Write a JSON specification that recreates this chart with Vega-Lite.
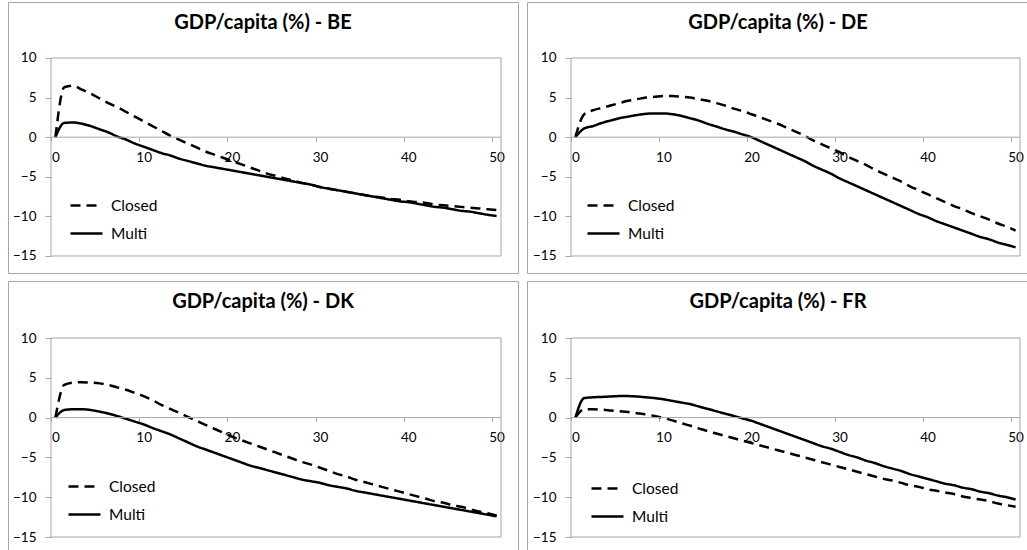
{
  "$schema": "https://vega.github.io/schema/vega-lite/v6.json",
  "padding": {"left": 7, "top": 1, "right": 0, "bottom": 0},
  "background": "white",
  "config": {"font": "Lato", "view": {"stroke": "#a6a6a6", "strokeWidth": 1}},
  "datasets": {
    "BE": [
      {"t":0,"Closed":0,"Multi":0},{"t":1,"Closed":6.3,"Multi":1.8},{"t":2,"Closed":6.5,"Multi":1.85},{"t":3,"Closed":6.0,"Multi":1.7},{"t":4,"Closed":5.5,"Multi":1.4},{"t":5,"Closed":4.9,"Multi":1.0},{"t":6,"Closed":4.3,"Multi":0.6},{"t":7,"Closed":3.8,"Multi":0.1},{"t":8,"Closed":3.2,"Multi":-0.3},{"t":9,"Closed":2.6,"Multi":-0.8},{"t":10,"Closed":2.0,"Multi":-1.2},
      {"t":11,"Closed":1.4,"Multi":-1.6},{"t":12,"Closed":0.8,"Multi":-2.0},{"t":13,"Closed":0.2,"Multi":-2.3},{"t":14,"Closed":-0.3,"Multi":-2.7},{"t":15,"Closed":-0.8,"Multi":-3.0},{"t":16,"Closed":-1.3,"Multi":-3.3},{"t":17,"Closed":-1.8,"Multi":-3.6},{"t":18,"Closed":-2.2,"Multi":-3.8},{"t":19,"Closed":-2.6,"Multi":-4.0},{"t":20,"Closed":-3.0,"Multi":-4.2},
      {"t":21,"Closed":-3.4,"Multi":-4.4},{"t":22,"Closed":-3.8,"Multi":-4.6},{"t":23,"Closed":-4.2,"Multi":-4.8},{"t":24,"Closed":-4.6,"Multi":-5.0},{"t":25,"Closed":-4.9,"Multi":-5.2},{"t":26,"Closed":-5.2,"Multi":-5.4},{"t":27,"Closed":-5.5,"Multi":-5.6},{"t":28,"Closed":-5.8,"Multi":-5.8},{"t":29,"Closed":-6.0,"Multi":-6.0},{"t":30,"Closed":-6.3,"Multi":-6.3},
      {"t":31,"Closed":-6.5,"Multi":-6.5},{"t":32,"Closed":-6.7,"Multi":-6.7},{"t":33,"Closed":-6.9,"Multi":-6.9},{"t":34,"Closed":-7.1,"Multi":-7.1},{"t":35,"Closed":-7.3,"Multi":-7.3},{"t":36,"Closed":-7.5,"Multi":-7.5},{"t":37,"Closed":-7.6,"Multi":-7.7},{"t":38,"Closed":-7.8,"Multi":-7.9},{"t":39,"Closed":-7.9,"Multi":-8.1},{"t":40,"Closed":-8.1,"Multi":-8.2},
      {"t":41,"Closed":-8.2,"Multi":-8.4},{"t":42,"Closed":-8.3,"Multi":-8.6},{"t":43,"Closed":-8.5,"Multi":-8.8},{"t":44,"Closed":-8.6,"Multi":-8.9},{"t":45,"Closed":-8.7,"Multi":-9.1},{"t":46,"Closed":-8.8,"Multi":-9.3},{"t":47,"Closed":-8.9,"Multi":-9.4},{"t":48,"Closed":-9.0,"Multi":-9.6},{"t":49,"Closed":-9.1,"Multi":-9.8},{"t":50,"Closed":-9.2,"Multi":-9.95}
    ],
    "DE": [
      {"t":0,"Closed":0,"Multi":0},{"t":1,"Closed":2.9,"Multi":1.1},{"t":2,"Closed":3.4,"Multi":1.4},{"t":3,"Closed":3.7,"Multi":1.8},{"t":4,"Closed":4.0,"Multi":2.1},{"t":5,"Closed":4.3,"Multi":2.4},{"t":6,"Closed":4.6,"Multi":2.6},{"t":7,"Closed":4.8,"Multi":2.8},{"t":8,"Closed":5.0,"Multi":2.95},{"t":9,"Closed":5.1,"Multi":3.0},{"t":10,"Closed":5.2,"Multi":3.0},
      {"t":11,"Closed":5.2,"Multi":2.9},{"t":12,"Closed":5.1,"Multi":2.7},{"t":13,"Closed":5.0,"Multi":2.4},{"t":14,"Closed":4.8,"Multi":2.1},{"t":15,"Closed":4.6,"Multi":1.7},{"t":16,"Closed":4.3,"Multi":1.35},{"t":17,"Closed":4.0,"Multi":1.0},{"t":18,"Closed":3.6,"Multi":0.7},{"t":19,"Closed":3.3,"Multi":0.35},{"t":20,"Closed":2.9,"Multi":0.0},
      {"t":21,"Closed":2.5,"Multi":-0.5},{"t":22,"Closed":2.1,"Multi":-1.0},{"t":23,"Closed":1.7,"Multi":-1.5},{"t":24,"Closed":1.2,"Multi":-2.0},{"t":25,"Closed":0.7,"Multi":-2.5},{"t":26,"Closed":0.2,"Multi":-3.0},{"t":27,"Closed":-0.4,"Multi":-3.6},{"t":28,"Closed":-0.9,"Multi":-4.1},{"t":29,"Closed":-1.4,"Multi":-4.6},{"t":30,"Closed":-1.9,"Multi":-5.2},
      {"t":31,"Closed":-2.5,"Multi":-5.7},{"t":32,"Closed":-3.0,"Multi":-6.2},{"t":33,"Closed":-3.5,"Multi":-6.7},{"t":34,"Closed":-4.1,"Multi":-7.2},{"t":35,"Closed":-4.6,"Multi":-7.7},{"t":36,"Closed":-5.1,"Multi":-8.2},{"t":37,"Closed":-5.6,"Multi":-8.7},{"t":38,"Closed":-6.2,"Multi":-9.2},{"t":39,"Closed":-6.7,"Multi":-9.7},{"t":40,"Closed":-7.2,"Multi":-10.1},
      {"t":41,"Closed":-7.7,"Multi":-10.6},{"t":42,"Closed":-8.2,"Multi":-11.0},{"t":43,"Closed":-8.7,"Multi":-11.4},{"t":44,"Closed":-9.1,"Multi":-11.8},{"t":45,"Closed":-9.6,"Multi":-12.2},{"t":46,"Closed":-10.0,"Multi":-12.6},{"t":47,"Closed":-10.4,"Multi":-12.9},{"t":48,"Closed":-10.9,"Multi":-13.3},{"t":49,"Closed":-11.3,"Multi":-13.6},{"t":50,"Closed":-11.8,"Multi":-13.9}
    ],
    "DK": [
      {"t":0,"Closed":0,"Multi":0},{"t":1,"Closed":4.1,"Multi":0.95},{"t":2,"Closed":4.4,"Multi":1.05},{"t":3,"Closed":4.45,"Multi":1.05},{"t":4,"Closed":4.4,"Multi":0.95},{"t":5,"Closed":4.3,"Multi":0.75},{"t":6,"Closed":4.1,"Multi":0.5},{"t":7,"Closed":3.8,"Multi":0.2},{"t":8,"Closed":3.5,"Multi":-0.15},{"t":9,"Closed":3.1,"Multi":-0.5},{"t":10,"Closed":2.7,"Multi":-0.85},
      {"t":11,"Closed":2.2,"Multi":-1.3},{"t":12,"Closed":1.6,"Multi":-1.7},{"t":13,"Closed":1.1,"Multi":-2.1},{"t":14,"Closed":0.6,"Multi":-2.6},{"t":15,"Closed":0.1,"Multi":-3.1},{"t":16,"Closed":-0.4,"Multi":-3.6},{"t":17,"Closed":-0.9,"Multi":-4.0},{"t":18,"Closed":-1.4,"Multi":-4.4},{"t":19,"Closed":-1.9,"Multi":-4.8},{"t":20,"Closed":-2.4,"Multi":-5.2},
      {"t":21,"Closed":-2.8,"Multi":-5.6},{"t":22,"Closed":-3.2,"Multi":-6.0},{"t":23,"Closed":-3.6,"Multi":-6.3},{"t":24,"Closed":-4.0,"Multi":-6.6},{"t":25,"Closed":-4.4,"Multi":-6.9},{"t":26,"Closed":-4.8,"Multi":-7.2},{"t":27,"Closed":-5.2,"Multi":-7.5},{"t":28,"Closed":-5.6,"Multi":-7.8},{"t":29,"Closed":-5.9,"Multi":-8.0},{"t":30,"Closed":-6.3,"Multi":-8.2},
      {"t":31,"Closed":-6.7,"Multi":-8.5},{"t":32,"Closed":-7.1,"Multi":-8.7},{"t":33,"Closed":-7.4,"Multi":-8.9},{"t":34,"Closed":-7.8,"Multi":-9.2},{"t":35,"Closed":-8.1,"Multi":-9.4},{"t":36,"Closed":-8.4,"Multi":-9.6},{"t":37,"Closed":-8.7,"Multi":-9.8},{"t":38,"Closed":-9.0,"Multi":-10.0},{"t":39,"Closed":-9.3,"Multi":-10.2},{"t":40,"Closed":-9.6,"Multi":-10.4},
      {"t":41,"Closed":-9.9,"Multi":-10.6},{"t":42,"Closed":-10.2,"Multi":-10.8},{"t":43,"Closed":-10.5,"Multi":-11.0},{"t":44,"Closed":-10.7,"Multi":-11.2},{"t":45,"Closed":-11.0,"Multi":-11.4},{"t":46,"Closed":-11.2,"Multi":-11.6},{"t":47,"Closed":-11.5,"Multi":-11.8},{"t":48,"Closed":-11.8,"Multi":-12.0},{"t":49,"Closed":-12.0,"Multi":-12.2},{"t":50,"Closed":-12.3,"Multi":-12.4}
    ],
    "FR": [
      {"t":0,"Closed":0,"Multi":0},{"t":1,"Closed":1.05,"Multi":2.45},{"t":2,"Closed":1.05,"Multi":2.55},{"t":3,"Closed":1.0,"Multi":2.6},{"t":4,"Closed":0.9,"Multi":2.65},{"t":5,"Closed":0.8,"Multi":2.7},{"t":6,"Closed":0.7,"Multi":2.7},{"t":7,"Closed":0.55,"Multi":2.65},{"t":8,"Closed":0.4,"Multi":2.55},{"t":9,"Closed":0.2,"Multi":2.45},{"t":10,"Closed":-0.05,"Multi":2.3},
      {"t":11,"Closed":-0.35,"Multi":2.1},{"t":12,"Closed":-0.7,"Multi":1.9},{"t":13,"Closed":-1.0,"Multi":1.7},{"t":14,"Closed":-1.35,"Multi":1.4},{"t":15,"Closed":-1.7,"Multi":1.1},{"t":16,"Closed":-2.0,"Multi":0.8},{"t":17,"Closed":-2.3,"Multi":0.5},{"t":18,"Closed":-2.6,"Multi":0.2},{"t":19,"Closed":-2.9,"Multi":-0.1},{"t":20,"Closed":-3.2,"Multi":-0.4},
      {"t":21,"Closed":-3.5,"Multi":-0.8},{"t":22,"Closed":-3.8,"Multi":-1.2},{"t":23,"Closed":-4.1,"Multi":-1.6},{"t":24,"Closed":-4.4,"Multi":-2.0},{"t":25,"Closed":-4.7,"Multi":-2.4},{"t":26,"Closed":-5.0,"Multi":-2.8},{"t":27,"Closed":-5.3,"Multi":-3.2},{"t":28,"Closed":-5.6,"Multi":-3.6},{"t":29,"Closed":-5.9,"Multi":-3.9},{"t":30,"Closed":-6.2,"Multi":-4.3},
      {"t":31,"Closed":-6.5,"Multi":-4.7},{"t":32,"Closed":-6.8,"Multi":-5.0},{"t":33,"Closed":-7.1,"Multi":-5.4},{"t":34,"Closed":-7.4,"Multi":-5.7},{"t":35,"Closed":-7.7,"Multi":-6.1},{"t":36,"Closed":-7.9,"Multi":-6.4},{"t":37,"Closed":-8.2,"Multi":-6.7},{"t":38,"Closed":-8.5,"Multi":-7.1},{"t":39,"Closed":-8.7,"Multi":-7.4},{"t":40,"Closed":-9.0,"Multi":-7.7},
      {"t":41,"Closed":-9.2,"Multi":-8.0},{"t":42,"Closed":-9.4,"Multi":-8.3},{"t":43,"Closed":-9.6,"Multi":-8.5},{"t":44,"Closed":-9.9,"Multi":-8.8},{"t":45,"Closed":-10.1,"Multi":-9.0},{"t":46,"Closed":-10.3,"Multi":-9.3},{"t":47,"Closed":-10.5,"Multi":-9.5},{"t":48,"Closed":-10.8,"Multi":-9.8},{"t":49,"Closed":-11.0,"Multi":-10.0},{"t":50,"Closed":-11.2,"Multi":-10.3}
    ]
  },
  "columns": 2,
  "spacing": {"row": 6, "column": 7},
  "concat": [
    {
      "width": 510, "height": 271,
      "title": {"text": "GDP/capita (%) - BE", "font": "Lato", "fontSize": 20, "fontWeight": "bold", "color": "#000", "anchor": "middle", "frame": "group", "offset": -47, "baseline": "alphabetic"},
      "data": {"name": "BE"},
      "layer": [
        {"transform": [{"fold": ["Closed", "Multi"], "as": ["s", "v"]}],
         "mark": {"type": "line", "color": "#000", "strokeWidth": 2.5, "interpolate": "monotone"},
         "encoding": {
           "x": {"field": "t", "type": "quantitative", "scale": {"domain": [-5.373, 52.427], "nice": false, "zero": false},
                 "axis": {"values": [0,10,20,30,40,50], "offset": -135.8, "domain": false, "grid": false, "tickSize": 4, "tickOffset": -4.4, "labelOffset": 4.4, "tickColor": "#a6a6a6", "labelPadding": 9, "labelFont": "Lato", "labelFontSize": 13.5, "labelColor": "#000", "title": null, "labelFlush": false, "labelOverlap": false, "zindex": 0}},
           "y": {"field": "v", "type": "quantitative", "scale": {"domain": [-17.15, 17.07], "nice": false, "zero": false},
                 "axis": {"values": [-15,-10,-5,0,5,10], "offset": -43, "domain": false, "grid": false, "tickSize": 6, "tickColor": "#a6a6a6", "labelPadding": 9, "labelFont": "Lato", "labelFontSize": 13.5, "labelColor": "#000", "title": null, "labelFlush": false, "labelOverlap": false, "zindex": 0}},
           "strokeDash": {"field": "s", "type": "nominal", "scale": {"domain": ["Closed", "Multi"], "range": [[10, 6], [1, 0]]},
                 "legend": {"title": null, "orient": "none", "legendX": 61, "legendY": 186, "symbolType": "stroke", "symbolSize": 1024, "symbolStrokeWidth": 2.5, "symbolStrokeColor": "#000", "labelFont": "Lato", "labelFontSize": 15.5, "labelColor": "#000", "labelOffset": 7, "rowPadding": 2, "padding": 0}}
         }},
        {"data": {"values": [{}]}, "mark": {"type": "rect", "fill": "white", "fillOpacity": 0, "stroke": "#a6a6a6", "strokeWidth": 1},
         "encoding": {"x": {"datum": -0.5, "type": "quantitative"}, "x2": {"datum": 50.5}, "y": {"datum": -15, "type": "quantitative"}, "y2": {"datum": 10}}},
        {"data": {"values": [{}]}, "mark": {"type": "rule", "stroke": "#a6a6a6", "strokeWidth": 1},
         "encoding": {"x": {"datum": -0.5, "type": "quantitative"}, "x2": {"datum": 50.5}, "y": {"datum": 0, "type": "quantitative"}}}
      ]
    },
    {
      "width": 502, "height": 271,
      "title": {"text": "GDP/capita (%) - DE", "font": "Lato", "fontSize": 20, "fontWeight": "bold", "color": "#000", "anchor": "middle", "frame": "group", "offset": -47, "baseline": "alphabetic"},
      "data": {"name": "DE"},
      "layer": [
        {"transform": [{"fold": ["Closed", "Multi"], "as": ["s", "v"]}],
         "mark": {"type": "line", "color": "#000", "strokeWidth": 2.5, "interpolate": "monotone"},
         "encoding": {
           "x": {"field": "t", "type": "quantitative", "scale": {"domain": [-5.498, 51.522], "nice": false, "zero": false},
                 "axis": {"values": [0,10,20,30,40,50], "offset": -135.8, "domain": false, "grid": false, "tickSize": 4, "tickOffset": -4.4, "labelOffset": 4.4, "tickColor": "#a6a6a6", "labelPadding": 9, "labelFont": "Lato", "labelFontSize": 13.5, "labelColor": "#000", "title": null, "labelFlush": false, "labelOverlap": false, "zindex": 0}},
           "y": {"field": "v", "type": "quantitative", "scale": {"domain": [-17.15, 17.07], "nice": false, "zero": false},
                 "axis": {"values": [-15,-10,-5,0,5,10], "offset": -44, "domain": false, "grid": false, "tickSize": 6, "tickColor": "#a6a6a6", "labelPadding": 9, "labelFont": "Lato", "labelFontSize": 13.5, "labelColor": "#000", "title": null, "labelFlush": false, "labelOverlap": false, "zindex": 0}},
           "strokeDash": {"field": "s", "type": "nominal", "scale": {"domain": ["Closed", "Multi"], "range": [[10, 6], [1, 0]]},
                 "legend": {"title": null, "orient": "none", "legendX": 59, "legendY": 186, "symbolType": "stroke", "symbolSize": 1024, "symbolStrokeWidth": 2.5, "symbolStrokeColor": "#000", "labelFont": "Lato", "labelFontSize": 15.5, "labelColor": "#000", "labelOffset": 7, "rowPadding": 2, "padding": 0}}
         }},
        {"data": {"values": [{}]}, "mark": {"type": "rect", "fill": "white", "fillOpacity": 0, "stroke": "#a6a6a6", "strokeWidth": 1},
         "encoding": {"x": {"datum": -0.5, "type": "quantitative"}, "x2": {"datum": 50.5}, "y": {"datum": -15, "type": "quantitative"}, "y2": {"datum": 10}}},
        {"data": {"values": [{}]}, "mark": {"type": "rule", "stroke": "#a6a6a6", "strokeWidth": 1},
         "encoding": {"x": {"datum": -0.5, "type": "quantitative"}, "x2": {"datum": 50.5}, "y": {"datum": 0, "type": "quantitative"}}}
      ]
    },
    {
      "width": 510, "height": 271,
      "title": {"text": "GDP/capita (%) - DK", "font": "Lato", "fontSize": 20, "fontWeight": "bold", "color": "#000", "anchor": "middle", "frame": "group", "offset": -47, "baseline": "alphabetic"},
      "data": {"name": "DK"},
      "layer": [
        {"transform": [{"fold": ["Closed", "Multi"], "as": ["s", "v"]}],
         "mark": {"type": "line", "color": "#000", "strokeWidth": 2.5, "interpolate": "monotone"},
         "encoding": {
           "x": {"field": "t", "type": "quantitative", "scale": {"domain": [-5.373, 52.427], "nice": false, "zero": false},
                 "axis": {"values": [0,10,20,30,40,50], "offset": -134.4, "domain": false, "grid": false, "tickSize": 4, "tickOffset": -4.4, "labelOffset": 4.4, "tickColor": "#a6a6a6", "labelPadding": 9, "labelFont": "Lato", "labelFontSize": 13.5, "labelColor": "#000", "title": null, "labelFlush": false, "labelOverlap": false, "zindex": 0}},
           "y": {"field": "v", "type": "quantitative", "scale": {"domain": [-16.884, 17.161], "nice": false, "zero": false},
                 "axis": {"values": [-15,-10,-5,0,5,10], "offset": -43, "domain": false, "grid": false, "tickSize": 6, "tickColor": "#a6a6a6", "labelPadding": 9, "labelFont": "Lato", "labelFontSize": 13.5, "labelColor": "#000", "title": null, "labelFlush": false, "labelOverlap": false, "zindex": 0}},
           "strokeDash": {"field": "s", "type": "nominal", "scale": {"domain": ["Closed", "Multi"], "range": [[10, 6], [1, 0]]},
                 "legend": {"title": null, "orient": "none", "legendX": 59, "legendY": 188, "symbolType": "stroke", "symbolSize": 1024, "symbolStrokeWidth": 2.5, "symbolStrokeColor": "#000", "labelFont": "Lato", "labelFontSize": 15.5, "labelColor": "#000", "labelOffset": 7, "rowPadding": 2, "padding": 0}}
         }},
        {"data": {"values": [{}]}, "mark": {"type": "rect", "fill": "white", "fillOpacity": 0, "stroke": "#a6a6a6", "strokeWidth": 1},
         "encoding": {"x": {"datum": -0.5, "type": "quantitative"}, "x2": {"datum": 50.5}, "y": {"datum": -15, "type": "quantitative"}, "y2": {"datum": 10}}},
        {"data": {"values": [{}]}, "mark": {"type": "rule", "stroke": "#a6a6a6", "strokeWidth": 1},
         "encoding": {"x": {"datum": -0.5, "type": "quantitative"}, "x2": {"datum": 50.5}, "y": {"datum": 0, "type": "quantitative"}}}
      ]
    },
    {
      "width": 502, "height": 271,
      "title": {"text": "GDP/capita (%) - FR", "font": "Lato", "fontSize": 20, "fontWeight": "bold", "color": "#000", "anchor": "middle", "frame": "group", "offset": -47, "baseline": "alphabetic"},
      "data": {"name": "FR"},
      "layer": [
        {"transform": [{"fold": ["Closed", "Multi"], "as": ["s", "v"]}],
         "mark": {"type": "line", "color": "#000", "strokeWidth": 2.5, "interpolate": "monotone"},
         "encoding": {
           "x": {"field": "t", "type": "quantitative", "scale": {"domain": [-5.498, 51.522], "nice": false, "zero": false},
                 "axis": {"values": [0,10,20,30,40,50], "offset": -134.4, "domain": false, "grid": false, "tickSize": 4, "tickOffset": -4.4, "labelOffset": 4.4, "tickColor": "#a6a6a6", "labelPadding": 9, "labelFont": "Lato", "labelFontSize": 13.5, "labelColor": "#000", "title": null, "labelFlush": false, "labelOverlap": false, "zindex": 0}},
           "y": {"field": "v", "type": "quantitative", "scale": {"domain": [-16.884, 17.161], "nice": false, "zero": false},
                 "axis": {"values": [-15,-10,-5,0,5,10], "offset": -44, "domain": false, "grid": false, "tickSize": 6, "tickColor": "#a6a6a6", "labelPadding": 9, "labelFont": "Lato", "labelFontSize": 13.5, "labelColor": "#000", "title": null, "labelFlush": false, "labelOverlap": false, "zindex": 0}},
           "strokeDash": {"field": "s", "type": "nominal", "scale": {"domain": ["Closed", "Multi"], "range": [[10, 6], [1, 0]]},
                 "legend": {"title": null, "orient": "none", "legendX": 63, "legendY": 190, "symbolType": "stroke", "symbolSize": 1024, "symbolStrokeWidth": 2.5, "symbolStrokeColor": "#000", "labelFont": "Lato", "labelFontSize": 15.5, "labelColor": "#000", "labelOffset": 7, "rowPadding": 2, "padding": 0}}
         }},
        {"data": {"values": [{}]}, "mark": {"type": "rect", "fill": "white", "fillOpacity": 0, "stroke": "#a6a6a6", "strokeWidth": 1},
         "encoding": {"x": {"datum": -0.5, "type": "quantitative"}, "x2": {"datum": 50.5}, "y": {"datum": -15, "type": "quantitative"}, "y2": {"datum": 10}}},
        {"data": {"values": [{}]}, "mark": {"type": "rule", "stroke": "#a6a6a6", "strokeWidth": 1},
         "encoding": {"x": {"datum": -0.5, "type": "quantitative"}, "x2": {"datum": 50.5}, "y": {"datum": 0, "type": "quantitative"}}}
      ]
    }
  ],
  "resolve": {"scale": {"strokeDash": "independent"}, "legend": {"strokeDash": "independent"}}
}
